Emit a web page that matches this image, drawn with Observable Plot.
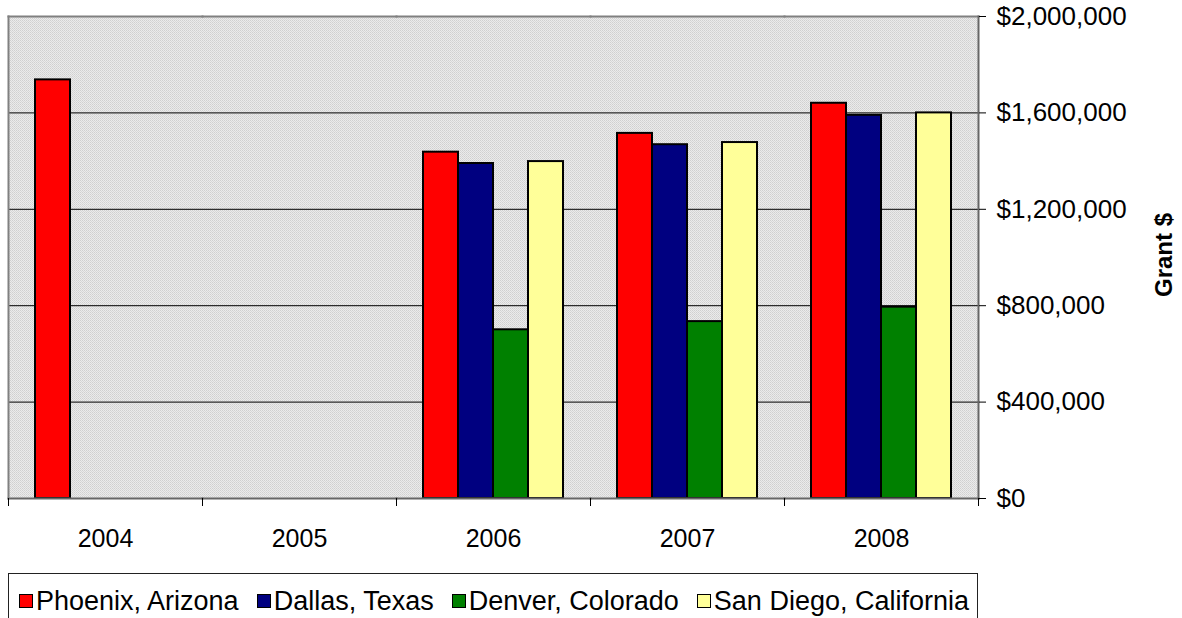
<!DOCTYPE html>
<html>
<head>
<meta charset="utf-8">
<script src="https://cdn.jsdelivr.net/npm/d3@7"></script>
<script src="https://cdn.jsdelivr.net/npm/@observablehq/plot@0.6"></script>
<style>
  body { margin: 0; background: #fff; font-family: Arial, "Liberation Sans", sans-serif; }
  #chart { width: 1182px; }
  #chart svg.main { display: block; }
  .legend {
    margin-left: 8px; margin-top: 13px; width: 970px; height: 52px;
    border: 1px solid #222; box-sizing: border-box;
    display: flex; align-items: flex-start; padding-top: 12px; padding-left: 10px;
    font-size: 27px; line-height: 30px; color: #000;
  }
  .legend .item { display: flex; align-items: center; margin-right: 18px; white-space: nowrap; }
  .legend .sw { display: inline-block; width: 12px; height: 12px; border: 1.5px solid #000; margin-right: 3px; }
</style>
</head>
<body>
<div id="chart"></div>
<script>
// Grant amounts per city and year (null = no grant that year)
const years = ["2004", "2005", "2006", "2007", "2008"];
const cities = ["Phoenix, Arizona", "Dallas, Texas", "Denver, Colorado", "San Diego, California"];
const colors = ["#ff0000", "#000080", "#008000", "#ffff99"];
const phoenix  = [1737000, null, 1437000, 1515000, 1640000];
const dallas   = [null, null, 1390000, 1468000, 1590000];
const denver   = [null, null, 700000, 734000, 794000];
const sanDiego = [null, null, 1398000, 1477000, 1600000];
const yTicks = [0, 400000, 800000, 1200000, 1600000, 2000000];

const series = [phoenix, dallas, denver, sanDiego];
const rows = [];
years.forEach((year, i) => {
  cities.forEach((city, j) => {
    rows.push({year, city, grant: series[j][i]});
  });
});

const fmt = d => "$" + d3.format(",")(d);

const plot = Plot.plot({
  width: 1182,
  height: 560,
  marginLeft: 8,
  marginRight: 204,
  marginTop: 16,
  marginBottom: 62,
  className: "main",
  style: {fontFamily: "Arial, 'Liberation Sans', sans-serif", fontSize: "25px", color: "#000", background: "transparent"},
  fx: {domain: years, paddingInner: 0, paddingOuter: 0, label: null},
  x: {domain: cities, paddingInner: 0, paddingOuter: 0.73, axis: null},
  y: {domain: [0, 2000000], ticks: yTicks},
  color: {domain: cities, range: colors},
  marks: [
    Plot.gridY(yTicks, {stroke: "#000", strokeOpacity: 1, strokeWidth: 1}),
    Plot.barY(rows, {fx: "year", x: "city", y: "grant", fill: "city", stroke: "#000", strokeWidth: 2, inset: 0}),
    Plot.frame({anchor: "top", stroke: "#808080", strokeWidth: 2}),
    Plot.frame({anchor: "bottom", stroke: "#666", strokeWidth: 2}),
    Plot.frame({anchor: "left", facetAnchor: "left", stroke: "#808080", strokeWidth: 2}),
    Plot.frame({anchor: "right", facetAnchor: "right", stroke: "#666", strokeWidth: 2}),
    Plot.axisFx({anchor: "bottom", tickSize: 0, tickPadding: 31, label: null}),
    Plot.axisY({anchor: "right", ticks: yTicks, tickFormat: fmt, tickSize: 7, tickPadding: 11, label: null, stroke: "#000", fontSize: 26})
  ]
});

const svg = d3.select(plot);
const fxScale = plot.scale("fx");
const yScale = plot.scale("y");
const plotBottom = yScale.apply(0);
const plotTop = yScale.apply(2000000);
const plotLeft = fxScale.apply(years[0]);
const plotRight = fxScale.apply(years[years.length - 1]) + fxScale.bandwidth;

// Dotted gray plot-area background
const defs = svg.insert("defs", "g");
const pat = defs.append("pattern").attr("id", "dots")
  .attr("width", 2).attr("height", 2).attr("patternUnits", "userSpaceOnUse");
pat.append("rect").attr("width", 2).attr("height", 2).attr("fill", "#ebebeb");
pat.append("rect").attr("width", 1).attr("height", 1).attr("fill", "#d0d0d0");
pat.append("rect").attr("x", 1).attr("y", 1).attr("width", 1).attr("height", 1).attr("fill", "#d8d8d8");
svg.insert("rect", "g")
  .attr("x", plotLeft).attr("y", plotTop)
  .attr("width", plotRight - plotLeft).attr("height", plotBottom - plotTop)
  .attr("fill", "url(#dots)");

// Category boundary ticks below the plot area
const edges = years.map(d => fxScale.apply(d)).concat([plotRight]);
svg.append("g")
  .attr("stroke", "#000")
  .attr("stroke-width", 1)
  .selectAll("line")
  .data(edges)
  .join("line")
  .attr("x1", d => d + 0.5).attr("x2", d => d + 0.5)
  .attr("y1", plotBottom).attr("y2", plotBottom + 8);

// Value-axis title
svg.append("text")
  .attr("transform", `translate(${plotRight + 194},${(plotTop + plotBottom) / 2 - 2}) rotate(-90)`)
  .attr("text-anchor", "middle")
  .attr("font-family", "Arial, 'Liberation Sans', sans-serif")
  .attr("font-weight", "bold")
  .attr("font-size", 24)
  .attr("fill", "#000")
  .text("Grant $");

const chart = document.getElementById("chart");
chart.appendChild(plot);

// Legend box
const legendBox = document.createElement("div");
legendBox.className = "legend";
cities.forEach((c, i) => {
  const item = document.createElement("div");
  item.className = "item";
  const sw = document.createElement("span");
  sw.className = "sw";
  sw.style.background = colors[i];
  const name = document.createElement("span");
  name.textContent = c;
  item.appendChild(sw);
  item.appendChild(name);
  legendBox.appendChild(item);
});
chart.appendChild(legendBox);
</script>
</body>
</html>
